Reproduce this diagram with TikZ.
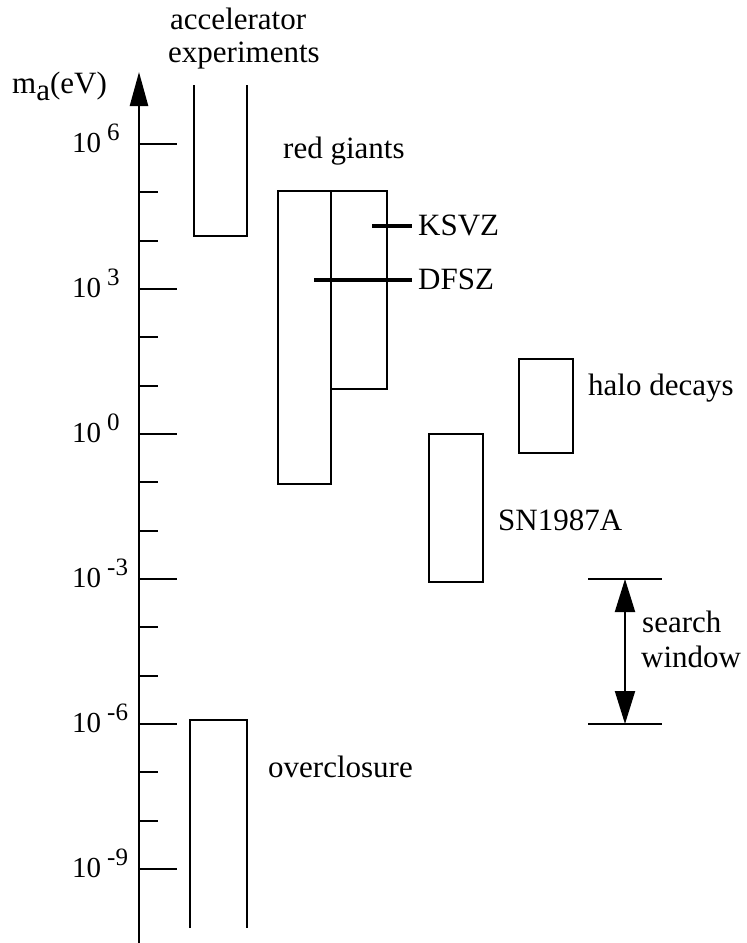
\documentclass[tikz,border=0pt]{standalone}
\usepackage{fontspec}
\setmainfont{Liberation Serif}
\usetikzlibrary{arrows.meta}
\begin{document}
\begin{tikzpicture}[x=1pt,y=-1pt,
  bar/.style={line width=2pt},
  modelline/.style={line width=4pt},
  axisline/.style={line width=2.5pt},
  lbl/.style={anchor=base west, inner sep=0pt, font=\fontsize{31}{31}\selectfont},
  num/.style={anchor=base west, inner sep=0pt, font=\fontsize{29}{29}\selectfont},
]
\useasboundingbox (0,0) rectangle (747,943);
% axis
\coordinate (axbot) at (139,943);
\coordinate (axtop) at (139,72);
\draw[axisline,-{Triangle[length=34pt,width=18pt]}] (axbot) -- (axtop);
\foreach \j in {0,...,15}{
  \pgfmathsetmacro\ty{144+48.333*\j}
  \pgfmathtruncatemacro\m{mod(\j,3)}
  \ifnum\m=0 \draw[bar] (139,\ty) -- (177,\ty); \else \draw[bar] (139,\ty) -- (158,\ty); \fi
}
\node[lbl] (axlabel) at (12,93) {m\raisebox{-7pt}{a}(eV)};
% tick labels
\node[num] (t6) at (72,152) {10\hspace{6pt}\raisebox{12pt}{\fontsize{25}{25}\selectfont 6}};
\node[num] (t3) at (72,297) {10\hspace{6pt}\raisebox{12pt}{\fontsize{25}{25}\selectfont 3}};
\node[num] (t0) at (72,442) {10\hspace{6pt}\raisebox{12pt}{\fontsize{25}{25}\selectfont 0}};
\node[num] (tm3) at (72,587) {10\hspace{6pt}\raisebox{12pt}{\fontsize{25}{25}\selectfont -3}};
\node[num] (tm6) at (72,732) {10\hspace{6pt}\raisebox{12pt}{\fontsize{25}{25}\selectfont -6}};
\node[num] (tm9) at (72,877) {10\hspace{6pt}\raisebox{12pt}{\fontsize{25}{25}\selectfont -9}};
% accelerator experiments
\draw[bar] (194,85) -- (194,236) -- (247,236) -- (247,85);
\node[lbl] (acc1) at (170,29) {accelerator};
\node[lbl] (acc2) at (168,62) {experiments};
% overclosure
\draw[bar] (190,928) -- (190,720) -- (247,720) -- (247,928);
\node[lbl] (over) at (268,777) {overclosure};
% red giants
\draw[bar] (278,191) rectangle (331,484);
\draw[bar] (331,191) rectangle (387,389);
\node[lbl] (rg) at (283,158) {red giants};
% KSVZ / DFSZ
\node[lbl] (ksvz) at (418,235) {KSVZ};
\node[lbl] (dfsz) at (418,289) {DFSZ};
\coordinate (ksvzL) at (372,226);
\coordinate (ksvzR) at (412,226);
\coordinate (dfszL) at (314,280);
\coordinate (dfszR) at (412,280);
\draw[modelline] (ksvzL) -- (ksvzR);
\draw[modelline] (dfszL) -- (dfszR);
% halo decays
\draw[bar] (519,359) rectangle (573,453);
\node[lbl] (halo) at (588,395) {halo decays};
% SN1987A
\draw[bar] (429,434) rectangle (483,582);
\node[lbl] (sn) at (498,530) {SN1987A};
% search window
\coordinate (swTL) at (588,579);
\coordinate (swTR) at (662,579);
\coordinate (swBL) at (588,724);
\coordinate (swBR) at (662,724);
\coordinate (swtop) at (625,579);
\coordinate (swbot) at (625,724);
\draw[bar] (swTL) -- (swTR);
\draw[bar] (swBL) -- (swBR);
\draw[bar,{Triangle[length=33pt,width=20pt]}-{Triangle[length=33pt,width=20pt]}] (swtop) -- (swbot);
\node[lbl] (sw1) at (642,632) {search};
\node[lbl] (sw2) at (641,667) {window};
\end{tikzpicture}
\end{document}
